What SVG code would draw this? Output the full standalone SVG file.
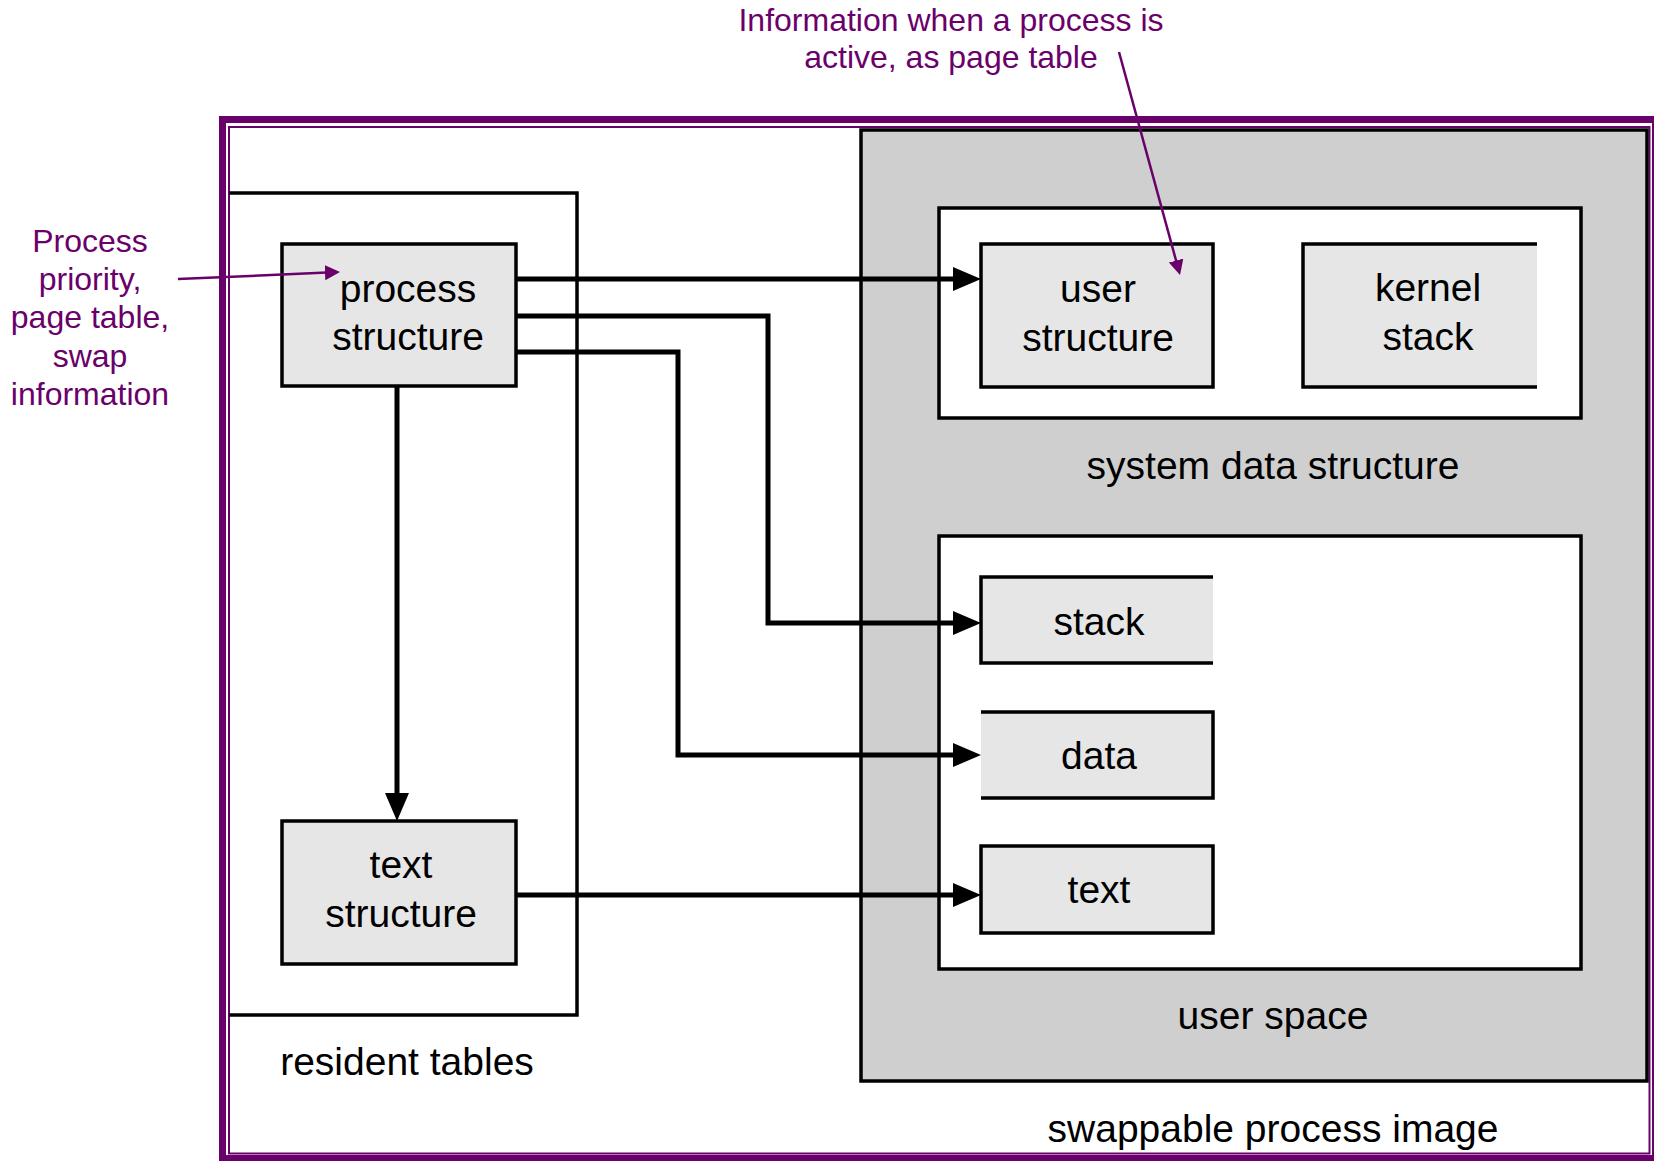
<svg xmlns="http://www.w3.org/2000/svg" width="1654" height="1161" viewBox="0 0 1654 1161">
<defs>
<style>
.lbl{font-family:"Liberation Sans",Arial,Helvetica,sans-serif;font-size:39px;fill:#000;text-anchor:middle}
.note{font-family:"Liberation Sans",Arial,Helvetica,sans-serif;font-size:32px;fill:#6a006a;text-anchor:middle}
.box{fill:#e6e6e6;stroke:#000;stroke-width:3.5}
.boxfill{fill:#e6e6e6;stroke:none}
.edge{fill:none;stroke:#000;stroke-width:3.5}
.conn{fill:none;stroke:#000;stroke-width:5;stroke-linejoin:miter;marker-end:url(#ah)}
.pconn{fill:none;stroke:#6a006a;stroke-width:2.5;marker-end:url(#pah)}
</style>
<marker id="ah" markerUnits="userSpaceOnUse" markerWidth="30" markerHeight="26" refX="2" refY="12" orient="auto">
<path d="M0,0 L28,12 L0,24 z" fill="#000"/>
</marker>
<marker id="pah" markerUnits="userSpaceOnUse" markerWidth="17" markerHeight="16" refX="2" refY="7.5" orient="auto">
<path d="M0,0 L15,7.5 L0,15 z" fill="#6a006a"/>
</marker>
</defs>
<rect width="1654" height="1161" fill="#fff"/>

<g id="swappable-frame">
<rect x="222.5" y="119.5" width="1433" height="1039" fill="none" stroke="#6a006a" stroke-width="7"/>
<rect x="229" y="127" width="1420.5" height="1026.5" fill="none" stroke="#6a006a" stroke-width="2"/>
<text class="lbl" x="1273" y="1142">swappable process image</text>
</g>

<g id="grey-area">
<rect x="861" y="130" width="786" height="951" fill="#cfcfcf" stroke="#000" stroke-width="3.5"/>
</g>

<g id="resident-tables">
<path class="edge" d="M229,193 L577,193 L577,1015 L229,1015"/>
<text class="lbl" x="407" y="1075">resident tables</text>
</g>

<g id="system-data-structure">
<rect x="939" y="208" width="642" height="210" fill="#fff" stroke="#000" stroke-width="3.5"/>
<text class="lbl" x="1273" y="479">system data structure</text>
</g>

<g id="user-space">
<rect x="939" y="536" width="642" height="433" fill="#fff" stroke="#000" stroke-width="3.5"/>
<text class="lbl" x="1273" y="1029">user space</text>
</g>

<g id="process-structure">
<rect class="box" x="282" y="244" width="234" height="142"/>
<text class="lbl" x="408" y="302">process</text>
<text class="lbl" x="408" y="350">structure</text>
</g>

<g id="text-structure">
<rect class="box" x="282" y="821" width="234" height="143"/>
<text class="lbl" x="401" y="878">text</text>
<text class="lbl" x="401" y="927">structure</text>
</g>

<g id="user-structure">
<rect class="box" x="981" y="244" width="232" height="143"/>
<text class="lbl" x="1098" y="302">user</text>
<text class="lbl" x="1098" y="351">structure</text>
</g>

<g id="kernel-stack">
<rect class="boxfill" x="1303" y="244" width="234" height="143"/>
<path class="edge" d="M1537,244 L1303,244 L1303,387 L1537,387"/>
<text class="lbl" x="1428" y="301">kernel</text>
<text class="lbl" x="1428" y="350">stack</text>
</g>

<g id="stack">
<rect class="boxfill" x="981" y="577" width="232" height="86"/>
<path class="edge" d="M1213,577 L981,577 L981,663 L1213,663"/>
<text class="lbl" x="1099" y="635">stack</text>
</g>

<g id="data">
<rect class="boxfill" x="981" y="712" width="232" height="86"/>
<path class="edge" d="M981,712 L1213,712 L1213,798 L981,798"/>
<text class="lbl" x="1099" y="769">data</text>
</g>

<g id="text">
<rect class="box" x="981" y="846" width="232" height="87"/>
<text class="lbl" x="1099" y="903">text</text>
</g>

<g id="annotations">
<text class="note" x="951" y="31">Information when a process is</text>
<text class="note" x="951" y="68">active, as page table</text>
<text class="note" x="90" y="252">Process</text>
<text class="note" x="90" y="290">priority,</text>
<text class="note" x="90" y="328">page table,</text>
<text class="note" x="90" y="367">swap</text>
<text class="note" x="90" y="405">information</text>
</g>

<g id="connectors">
<path class="conn" d="M516,279 L955,279"/>
<path class="conn" d="M516,316 L768,316 L768,623 L955,623"/>
<path class="conn" d="M516,352 L678,352 L678,755 L955,755"/>
<path class="conn" d="M397,386 L397,795"/>
<path class="conn" d="M516,895 L955,895"/>
<path class="pconn" d="M178,279 L327,272.6"/>
<path class="pconn" d="M1119,52 L1176.6,262.5"/>
</g>
</svg>
